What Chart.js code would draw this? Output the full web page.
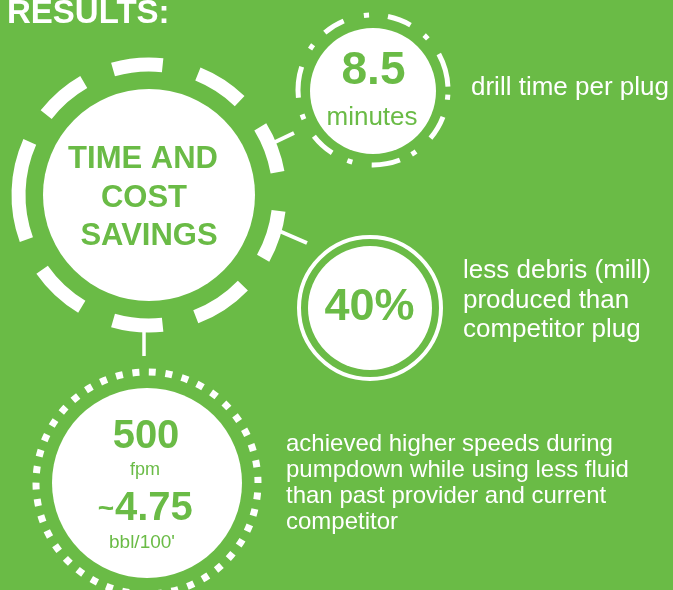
<!DOCTYPE html>
<html>
<head>
<meta charset="utf-8">
<script src="https://cdn.jsdelivr.net/npm/chart.js@4.4.1/dist/chart.umd.min.js"></script>
<style>
  html, body { margin: 0; padding: 0; background: #6abb46; }
  #wrap { width: 673px; height: 590px; }
</style>
</head>
<body>
<div id="wrap"><canvas id="infoChart" width="673" height="590"></canvas></div>
<script>
// --- texts / values ---
var titleText = 'RESULTS:';
var hubLines = ['TIME AND', 'COST', 'SAVINGS'];
var statValues = ['8.5', '40%', '500', '4.75'];
var statUnits = ['minutes', '', 'fpm', "bbl/100'"];
var noteDrill = ['drill time per plug'];
var noteDebris = ['less debris (mill)', 'produced than', 'competitor plug'];
var notePump = ['achieved higher speeds during', 'pumpdown while using less fluid', 'than past provider and current', 'competitor'];

// --- layout (pixel space of the 673x590 picture) ---
var GREEN = '#6abb46';
var FONT = "'Liberation Sans', Arial, sans-serif";

var disks = [
    { x: 149, y: 195, r: 106 },  // hub
    { x: 373, y: 91, r: 63 },    // 8.5
    { x: 370, y: 308, r: 62 },   // 40%
    { x: 147, y: 483, r: 95 }    // 500
];

// dashed ring round the hub, arcs in degrees (0 = right, counter clockwise)
var hubRing = { x: 149, y: 195, r: 130.5, w: 14,
    arcs: [[84, 106], [46, 68], [10, 31.5], [-29, -7], [-69, -44], [-106, -84], [215, 239], [156, 200], [120, 142]] };

// dash-dot ring round 8.5
var drillRing = { x: 373, y: 90, r: 75, w: 5,
    arcs: [[2.5, 28.7], [60, 78.5], [113, 130], [162, 186], [218, 237], [269, 291], [320, 339],
           [43, 47], [93, 97], [143, 147], [199, 203], [250, 254], [301, 305], [352.5, 356.5]] };

var debrisRing = { x: 370, y: 308, r: 71, w: 4 };
var pumpRing = { x: 147, y: 483, r: 111, w: 7, count: 42, startDeg: 87.5 };

var connectors = [
    [273, 143, 294, 133, 4],
    [277, 230, 307, 243, 4],
    [144, 327, 144, 356, 3.5]
];

function textItems() {
    return [
        { t: titleText, x: 7, y: 23, size: 33, bold: true, color: '#fff', align: 'left' },
        { t: hubLines[0], x: 143, y: 168, size: 31, bold: true, color: GREEN, align: 'center' },
        { t: hubLines[1], x: 144, y: 207, size: 31, bold: true, color: GREEN, align: 'center' },
        { t: hubLines[2], x: 149, y: 245, size: 31, bold: true, color: GREEN, align: 'center' },
        { t: statValues[0], x: 373.5, y: 84, size: 46, bold: true, color: GREEN, align: 'center' },
        { t: statUnits[0], x: 372, y: 125, size: 26, bold: false, color: GREEN, align: 'center' },
        { t: statValues[1], x: 369.5, y: 320, size: 45, bold: true, color: GREEN, align: 'center' },
        { t: statValues[2], x: 146, y: 448, size: 40, bold: true, color: GREEN, align: 'center' },
        { t: statUnits[2], x: 145, y: 475, size: 18, bold: false, color: GREEN, align: 'center' },
        { t: '~', x: 114, y: 517, size: 28, bold: true, color: GREEN, align: 'right' },
        { t: statValues[3], x: 115, y: 520, size: 40, bold: true, color: GREEN, align: 'left' },
        { t: statUnits[3], x: 142, y: 548, size: 19, bold: false, color: GREEN, align: 'center' }
    ];
}

var noteBlocks = [
    { lines: noteDrill, x: 471, y: 95, size: 26, lh: 29.5 },
    { lines: noteDebris, x: 463, y: 278, size: 26, lh: 29.5 },
    { lines: notePump, x: 286, y: 451, size: 24, lh: 26 }
];

var infographic = {
    id: 'infographic',
    afterDatasetsDraw(chart) {
        var ctx = chart.ctx;
        var sx = chart.scales.x, sy = chart.scales.y;
        var px = v => sx.getPixelForValue(v);
        var py = v => sy.getPixelForValue(v);
        var rad = d => d * Math.PI / 180;

        ctx.save();
        ctx.strokeStyle = '#fff';
        ctx.lineCap = 'butt';

        // arcs of the two broken rings
        [hubRing, drillRing].forEach(function (ring) {
            ctx.lineWidth = ring.w;
            ring.arcs.forEach(function (a) {
                ctx.beginPath();
                ctx.arc(px(ring.x), py(ring.y), ring.r, -rad(a[1]), -rad(a[0]));
                ctx.stroke();
            });
        });

        // plain thin ring
        ctx.lineWidth = debrisRing.w;
        ctx.beginPath();
        ctx.arc(px(debrisRing.x), py(debrisRing.y), debrisRing.r, 0, Math.PI * 2);
        ctx.stroke();

        // dotted ring
        var circ = 2 * Math.PI * pumpRing.r;
        var period = circ / pumpRing.count;
        var d0 = (360 - pumpRing.startDeg) / 360 * circ;
        ctx.lineWidth = pumpRing.w;
        ctx.setLineDash([pumpRing.w, period - pumpRing.w]);
        ctx.lineDashOffset = pumpRing.w / 2 - d0;
        ctx.beginPath();
        ctx.arc(px(pumpRing.x), py(pumpRing.y), pumpRing.r, 0, Math.PI * 2);
        ctx.stroke();
        ctx.setLineDash([]);

        // connectors
        connectors.forEach(function (c) {
            ctx.lineWidth = c[4];
            ctx.beginPath();
            ctx.moveTo(px(c[0]), py(c[1]));
            ctx.lineTo(px(c[2]), py(c[3]));
            ctx.stroke();
        });

        // texts
        ctx.textBaseline = 'alphabetic';
        textItems().forEach(function (it) {
            ctx.font = (it.bold ? 'bold ' : '') + it.size + 'px ' + FONT;
            ctx.fillStyle = it.color;
            ctx.textAlign = it.align;
            ctx.fillText(it.t, px(it.x), py(it.y));
        });
        noteBlocks.forEach(function (b) {
            ctx.font = b.size + 'px ' + FONT;
            ctx.fillStyle = '#fff';
            ctx.textAlign = 'left';
            b.lines.forEach(function (line, i) {
                ctx.fillText(line, px(b.x), py(b.y + i * b.lh));
            });
        });
        ctx.restore();
    }
};

var myChart = new Chart(document.getElementById('infoChart').getContext('2d'), {
    type: 'bubble',
    data: {
        datasets: [{
            data: disks.map(d => ({ x: d.x, y: d.y, r: d.r })),
            backgroundColor: '#ffffff',
            borderWidth: 0,
            hoverRadius: 0,
            clip: false
        }]
    },
    options: {
        responsive: false,
        animation: false,
        events: [],
        layout: { padding: 0, autoPadding: false },
        plugins: { legend: { display: false }, tooltip: { enabled: false } },
        scales: {
            x: { type: 'linear', min: 0, max: 673, display: false },
            y: { type: 'linear', min: 0, max: 590, reverse: true, display: false }
        }
    },
    plugins: [infographic]
});
</script>
</body>
</html>
